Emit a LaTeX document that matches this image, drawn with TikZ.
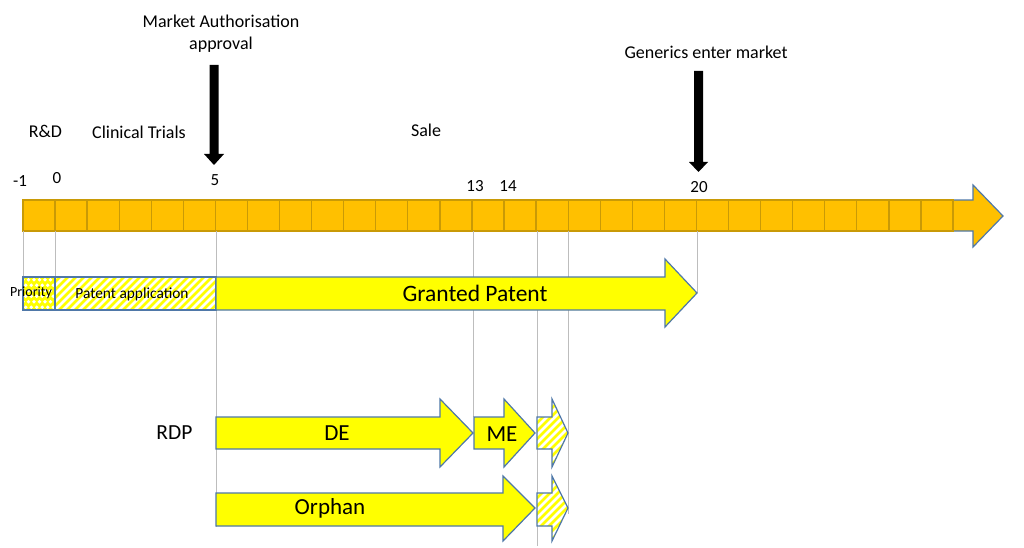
\documentclass[tikz,border=0pt]{standalone}
\usepackage{fontspec}
\setmainfont{Carlito}
\begin{document}
\begin{tikzpicture}[x=1pt,y=-1pt,
  cellbox/.style={fill=cellorange,draw=cellborder,line width=1.3pt},
  yarrow/.style={fill=yellow,draw=arrowblue,line width=1.2pt,line join=miter},
  guide/.style={draw=guidegray,line width=0.8pt},
  lbl/.style={inner sep=0pt,font=\fontsize{17}{20}\selectfont},
  toplbl/.style={inner sep=0pt,font=\fontsize{18}{21}\selectfont},
  biglbl/.style={inner sep=0pt,font=\fontsize{23}{27}\selectfont},
  blackarrow/.style={fill=black,draw=none}]
\definecolor{cellorange}{HTML}{FFC000}
\definecolor{cellborder}{HTML}{C99A06}
\definecolor{arrowblue}{HTML}{4F78A8}
\definecolor{guidegray}{HTML}{BDBDBD}
\definecolor{yellow}{HTML}{FFFF00}
\useasboundingbox (0,0) rectangle (1024,548);
\fill[white] (0,0) rectangle (1024,548);

% stripes helper: #1 x0, #2 x1, #3 ytop, #4 ybot
\newcommand{\mystripes}[4]{%
  \pgfmathsetmacro{\sh}{#4-#3}%
  \foreach \k in {-60,-52,...,200}{%
    \draw[yellow,line width=2.8pt] ({#1+\k},{#4}) -- ++(\sh,-\sh);
  }%
}

% ---------- timeline big arrow ----------
\draw[fill=cellorange,draw=arrowblue,line width=1.2pt]
  (23,200) -- (973,200) -- (973,185) -- (1003,216) -- (973,247) -- (973,231) -- (23,231) -- cycle;
\foreach \i in {0,...,28}{
  \draw[cellbox] ({23+32.07*\i},200) rectangle ({23+32.07*(\i+1)},231);
}

% ---------- guide lines ----------
\coordinate (gm1) at (23,231);
\coordinate (g0) at (55,231);
\coordinate (g5) at (216,231);
\coordinate (g13) at (473,231);
\coordinate (g15) at (537,231);
\coordinate (g16) at (568,231);
\coordinate (g20) at (697,231);
\draw[guide] (gm1) -- (23,311);
\draw[guide] (g0) -- (55,311);
\draw[guide] (g5) -- (216,527);
\draw[guide] (g13) -- (473,417);
\draw[guide] (g15) -- (537,546);
\draw[guide] (g16) -- (568,514);
\draw[guide] (g20) -- (697,293);

% ---------- priority ----------
\begin{scope}
  \clip (23,277) rectangle (55,310);
  \fill[yellow] (23,277) rectangle (55,310);
  \foreach \r in {0,...,6}{
    \foreach \c in {0,...,6}{
      \pgfmathsetmacro{\ox}{mod(\r,2)*2.75}
      \fill[white] ({23+\ox+5.5*\c},{277+2.75+5.5*\r}) circle (1.8);
    }
  }
\end{scope}
\draw[draw=arrowblue,line width=1.2pt] (23,277) rectangle (55,310);
\node[inner sep=0pt,font=\fontsize{14}{16}\selectfont] (prio) at (31,293) {Priority};

% ---------- patent application ----------
\begin{scope}
  \clip (55,277) rectangle (216,310);
  \fill[white] (55,277) rectangle (216,310);
  \mystripes{55}{216}{277}{310}
\end{scope}
\draw[draw=arrowblue,line width=1.2pt] (55,277) rectangle (216,310);
\node[inner sep=0pt,font=\fontsize{15.4}{18}\selectfont] (patapp) at (132,294) {Patent application};

% ---------- granted patent ----------
\draw[yarrow] (216,277) -- (665,277) -- (665,259) -- (697,293) -- (665,327) -- (665,310) -- (216,310) -- cycle;
\node[inner sep=0pt,font=\fontsize{23.5}{27}\selectfont] (granted) at (475,293) {Granted Patent};

% ---------- RDP arrows ----------
\draw[yarrow] (216,417) -- (440,417) -- (440,399) -- (473,433) -- (440,467) -- (440,449) -- (216,449) -- cycle;
\node[biglbl] (de) at (337,433) {DE};
\draw[yarrow] (474,417) -- (504,417) -- (504,399) -- (535,433) -- (504,467) -- (504,449) -- (474,449) -- cycle;
\node[biglbl] (me) at (502,434) {ME};

\begin{scope}
  \clip (537,417) -- (552,417) -- (552,399) -- (568,433) -- (552,467) -- (552,449) -- (537,449) -- cycle;
  \fill[white] (530,395) rectangle (570,470);
  \mystripes{510}{570}{395}{470}
\end{scope}
\draw[draw=arrowblue,line width=1.2pt,line join=miter] (537,417) -- (552,417) -- (552,399) -- (568,433) -- (552,467) -- (552,449) -- (537,449) -- cycle;

\draw[yarrow] (216,493) -- (503,493) -- (503,476) -- (535,508) -- (503,541) -- (503,526) -- (216,526) -- cycle;
\node[biglbl] (orphan) at (330,508) {Orphan};

\begin{scope}
  \clip (537,493) -- (552,493) -- (552,476) -- (568,508) -- (552,541) -- (552,526) -- (537,526) -- cycle;
  \fill[white] (530,470) rectangle (570,545);
  \mystripes{510}{570}{470}{545}
\end{scope}
\draw[draw=arrowblue,line width=1.2pt,line join=miter] (537,493) -- (552,493) -- (552,476) -- (568,508) -- (552,541) -- (552,526) -- (537,526) -- cycle;

\node[inner sep=0pt,font=\fontsize{21.5}{25}\selectfont] (rdp) at (174.5,433) {RDP};

% ---------- labels ----------
\node[lbl] (nm1) at (20,181) {-1};
\node[lbl] (n0) at (57,178) {0};
\node[lbl] (n5) at (215,180) {5};
\node[lbl] (n13) at (475,186) {13};
\node[lbl] (n14) at (508,186) {14};
\node[lbl] (n20) at (699,187) {20};

\node[toplbl] (rd) at (45.5,131) {R\&D};
\node[toplbl] (clin) at (139,132) {Clinical Trials};
\node[toplbl] (sale) at (426,130) {Sale};

\node[inner sep=0pt,align=center,font=\fontsize{18}{22}\selectfont] (ma) at (221,34) {Market Authorisation\\approval};
\node[toplbl] (gen) at (706,52) {Generics enter market};

% ---------- black arrows ----------
\coordinate (maTop) at (214,65);
\coordinate (maTip) at (214,165);
\fill[blackarrow] (209.5,65) -- (218.5,65) -- (218.5,154) -- (224,154) -- (214,165) -- (204,154) -- (209.5,154) -- cycle;
\coordinate (genTop) at (698.5,71);
\coordinate (genTip) at (698.5,172);
\fill[blackarrow] (694,71) -- (703,71) -- (703,162) -- (708,162) -- (698.5,172) -- (689,162) -- (694,162) -- cycle;
\end{tikzpicture}
\end{document}
